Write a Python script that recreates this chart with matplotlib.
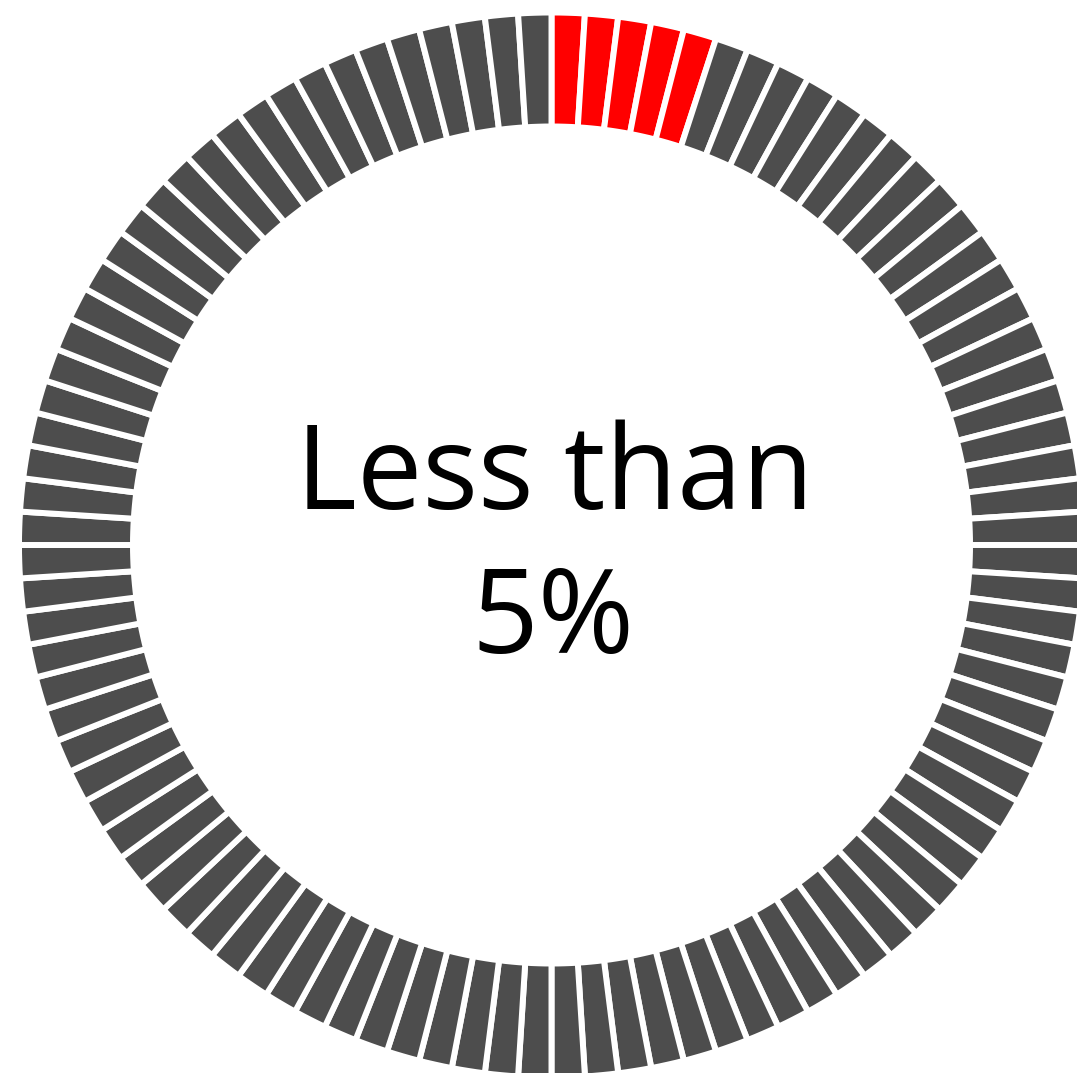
import matplotlib
matplotlib.use("Agg")
import matplotlib.pyplot as plt

# data
n_segments = 100
n_highlighted = 5
segment_values = [1] * n_segments
label_line1 = "Less than"
label_line2 = "5%"

highlight_color = "#ff0000"
base_color = "#4d4d4d"
colors = [highlight_color] * n_highlighted + [base_color] * (n_segments - n_highlighted)

W, H = 1077, 1073
fig = plt.figure(figsize=(W / 100, H / 100), dpi=100)
ax = fig.add_axes([0, 0, 1, 1])

cx, cy = 551.5, H - 545
r_out = 532.5
ring = 114

# white edges make the gaps between segments
ax.pie(segment_values, colors=colors, startangle=90, counterclock=False,
       center=(cx, cy), radius=r_out,
       wedgeprops=dict(width=ring, edgecolor="white", linewidth=4.3))

ax.text(cx + 3, H - 509, label_line1, ha="center", va="baseline",
        fontsize=84, family="Open Sans", color="black")
ax.text(cx + 1, H - 653, label_line2, ha="center", va="baseline",
        fontsize=84, family="Open Sans", color="black")

ax.set_xlim(0, W)
ax.set_ylim(0, H)
ax.set_aspect("equal")
ax.axis("off")

fig.savefig("out.png", dpi=100)
